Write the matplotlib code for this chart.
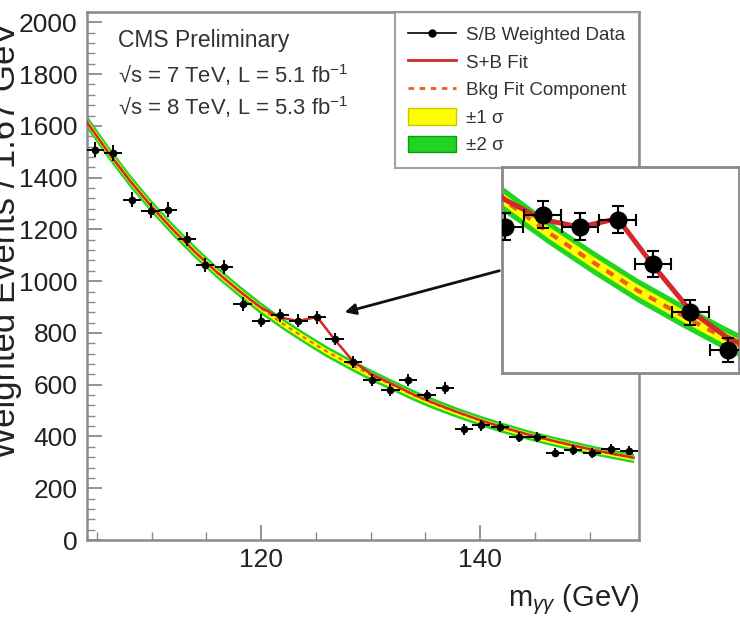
import matplotlib
matplotlib.use("Agg")
import matplotlib.pyplot as plt
from matplotlib.lines import Line2D
from matplotlib.patches import Patch

plt.rcParams['font.family'] = ['Liberation Sans', 'DejaVu Sans']
plt.rcParams['mathtext.fontset'] = 'custom'
plt.rcParams['mathtext.rm'] = 'Liberation Sans'
plt.rcParams['mathtext.it'] = 'Liberation Sans:italic'

# S/B weighted data (bin centres, weighted events, errors)
bin_x = [104.8, 106.5, 108.2, 109.9, 111.5, 113.2, 114.9, 116.6, 118.3, 120.0,
         121.7, 123.4, 125.1, 126.7, 128.4, 130.1, 131.8, 133.4, 135.1, 136.8,
         138.5, 140.1, 141.8, 143.5, 145.2, 146.8, 148.5, 150.2, 151.9, 153.6]
data_y = [1508, 1495, 1315, 1273, 1277, 1162, 1063, 1055, 912, 847,
          869, 847, 860, 777, 687, 617, 578, 617, 559, 587,
          428, 443, 437, 399, 399, 338, 347, 335, 351, 345]
data_err = [30, 30, 29, 28, 28, 27, 27, 26, 26, 25,
            25, 25, 25, 24, 24, 23, 23, 23, 22, 22,
            21, 21, 21, 20, 20, 19, 19, 19, 19, 18]
bin_half = 0.83

# background fit component with 1 and 2 sigma bands
bkg_x = [104, 106, 108, 110, 112, 114, 116, 118, 120, 122, 124, 126, 128,
         130, 132, 134, 136, 138, 140, 142, 144, 146, 148, 150, 152, 154]
bkg_y = [1620, 1500, 1389, 1288, 1196, 1111, 1033, 962, 895, 835, 780, 728, 682,
         638, 598, 558, 523, 491, 462, 435, 411, 389, 369, 350, 333, 317]
sig1 = [13, 13, 12, 12, 12, 12, 12, 11, 11, 11, 11, 11, 11,
        11, 11, 10, 10, 10, 10, 10, 10, 10, 10, 9, 9, 9]
sig2 = [26, 25, 25, 24, 24, 24, 23, 23, 23, 22, 22, 22, 22,
        22, 21, 21, 21, 20, 20, 20, 19, 19, 19, 18, 18, 18]

# signal + background fit
sb_x = [104, 106, 108, 110, 112, 114, 116, 118, 120, 121.7, 123.4, 125.1, 126.7,
        128.4, 130, 132, 134, 136, 138, 140, 142, 144, 146, 148, 150, 152, 154]
sb_y = [1620, 1500, 1389, 1288, 1196, 1111, 1033, 962, 897, 860, 846, 862, 775,
        690, 642, 602, 560, 525, 493, 463, 436, 412, 390, 370, 351, 334, 318]

GREEN = '#22d422'
YELLOW = '#ffff00'
RED = '#d22a2a'
ORANGE = '#e8601a'
GREY = '#8a8a8a'


def draw(a, lw, ms, cap, elw):
    lo2 = [b - s for b, s in zip(bkg_y, sig2)]
    hi2 = [b + s for b, s in zip(bkg_y, sig2)]
    lo1 = [b - s for b, s in zip(bkg_y, sig1)]
    hi1 = [b + s for b, s in zip(bkg_y, sig1)]
    a.fill_between(bkg_x, lo2, hi2, color=GREEN, lw=0, zorder=1)
    a.fill_between(bkg_x, lo1, hi1, color=YELLOW, lw=0, zorder=2)
    a.plot(bkg_x, bkg_y, color=ORANGE, ls=(0, (2, 2)), lw=lw, zorder=3)
    a.plot(sb_x, sb_y, color=RED, lw=lw * 1.2, zorder=4)
    a.errorbar(bin_x, data_y, yerr=data_err, xerr=bin_half, fmt='o', color='black',
               ms=ms, capsize=cap, elinewidth=elw, capthick=elw, zorder=5)


fig = plt.figure(figsize=(7.4, 6.23), dpi=100)
ax = fig.add_axes([0.1176, 0.1332, 0.746, 0.8475])
draw(ax, 1.5, 4.5, 0, 1.4)

ax.set_xlim(104.1, 154.5)
ax.set_ylim(0, 2040)
ax.set_xticks([120, 140])
ax.set_xticks([105, 110, 115, 125, 130, 135, 145, 150], minor=True)
ax.set_yticks(range(0, 2001, 200))
ax.set_yticks(range(0, 2041, 40), minor=True)
ax.tick_params(which='both', direction='in', colors=GREY, labelcolor='#222222',
               labelsize=19, top=False, right=False)
ax.tick_params(which='major', length=11, width=1.3)
ax.tick_params(which='minor', length=6, width=1.0)
ax.tick_params(axis='y', pad=7)
ax.tick_params(axis='x', pad=6)
for s in ax.spines.values():
    s.set_color(GREY)
    s.set_linewidth(1.8)

ax.text(0.056, 0.947, 'CMS Preliminary', transform=ax.transAxes, fontsize=16.5,
        va='center', color='#333333')
ax.text(0.056, 0.881, '\u221as = 7 TeV, L = 5.1 fb$^{-1}$', transform=ax.transAxes,
        fontsize=15.8, va='center', color='#333333')
ax.text(0.056, 0.820, '\u221as = 8 TeV, L = 5.3 fb$^{-1}$', transform=ax.transAxes,
        fontsize=15.8, va='center', color='#333333')

handles = [
    Line2D([], [], color='black', marker='o', ms=5, lw=1.2),
    Line2D([], [], color=RED, lw=2),
    Line2D([], [], color=ORANGE, ls=(0, (2, 2)), lw=2),
    Patch(facecolor=YELLOW, edgecolor='#c8c800'),
    Patch(facecolor=GREEN, edgecolor='#119911'),
]
labels = ['S/B Weighted Data', 'S+B Fit', 'Bkg Fit Component', '\u00b11 \u03c3', '\u00b12 \u03c3']
leg = ax.legend(handles, labels, loc='upper right', bbox_to_anchor=(1, 1),
                borderaxespad=0, fancybox=False, fontsize=13.5, handlelength=2.6,
                handleheight=1.0, handletextpad=0.5, labelspacing=0.47, borderpad=0.7)
leg.get_frame().set_edgecolor(GREY)
leg.get_frame().set_linewidth(1.5)
for t in leg.get_texts():
    t.set_color('#333333')

fig.text(0.865, 0.037, 'm$_{\\gamma\\gamma}$ (GeV)', ha='right', va='center',
         fontsize=21, color='#222222')
fig.text(0.007, 0.615, 'Weighted Events / 1.67 GeV', rotation=90, ha='center',
         va='center', fontsize=25, color='#222222')

# arrow from the inset to the excess
ax.annotate('', xy=(342 / 740, 1 - 313 / 623), xycoords='figure fraction',
            xytext=(502 / 740, 1 - 270 / 623), textcoords='figure fraction',
            arrowprops=dict(arrowstyle='-|>', color='#111111', lw=2, mutation_scale=16),
            annotation_clip=False)

# zoomed inset around the excess
axi = fig.add_axes([502 / 740, 1 - 373 / 623, 237 / 740, 206 / 623])
draw(axi, 3.0, 12, 4, 1.5)
axi.set_xlim(119.86, 130.6)
axi.set_ylim(574, 958)
axi.set_xticks([])
axi.set_yticks([])
for s in axi.spines.values():
    s.set_color(GREY)
    s.set_linewidth(2)

fig.savefig('out.png', dpi=100)
plt.close(fig)
